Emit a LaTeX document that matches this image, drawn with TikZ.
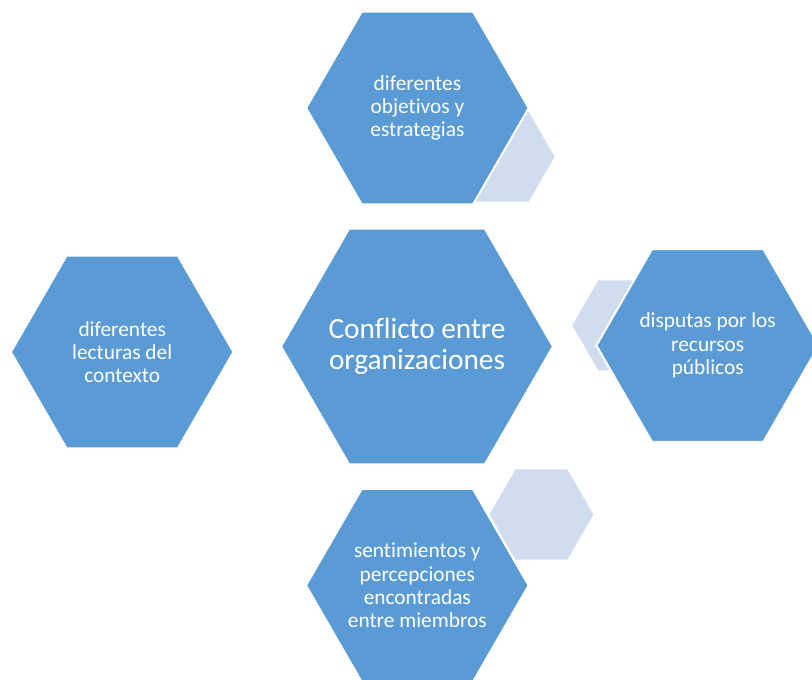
\documentclass[tikz,border=0pt]{standalone}
\usepackage{fontspec}
\setmainfont[RawFeature={-liga;-clig;-dlig}]{Carlito}
\usetikzlibrary{shapes.geometric}
\definecolor{hexblue}{HTML}{5B9BD5}
\definecolor{hexpale}{HTML}{D1DCEE}
\tikzset{
  hexshape/.style={regular polygon, regular polygon sides=6, inner sep=0pt, outer sep=0pt},
  bighex/.style={hexshape, minimum size=167pt, fill=hexblue, draw=white, line width=1.5pt},
  centerhex/.style={bighex, minimum size=204pt},
  smallhex/.style={hexshape, minimum size=78pt, fill=hexpale},
  celltext/.style={text=white, align=center, inner sep=0pt, font=\fontsize{16}{17.5}\selectfont},
  coretext/.style={celltext, font=\fontsize{22}{23.5}\selectfont}
}
\begin{document}
\begin{tikzpicture}[x=0.75pt,y=-0.75pt]
\useasboundingbox (0,0) rectangle (812,679);
\clip (0,0) rectangle (812,679);
% pale accent hexagons behind the outer cells
\node[smallhex] (accTop) at (502.6,156.7) {};
\node[smallhex] (accRight) at (624.3,325.3) {};
\node[smallhex] (accBottom) at (541.4,514.5) {};
% central cell
\node[centerhex] (core) at (417,346.5) {};
\node[coretext] (coreLbl) at (core.center) {Conflicto entre\\organizaciones};
% outer cells
\node[bighex] (top) at (417.4,108) {};
\node[celltext] (topLbl) at (top.center) {diferentes\\objetivos y\\estrategias};
\node[bighex] (left) at (122.2,352) {};
\node[celltext] (leftLbl) at (left.center) {diferentes\\lecturas del\\contexto};
\node[bighex] (right) at (707.7,345.5) {};
\node[celltext] (rightLbl) at (right.center) {disputas por los\\recursos\\públicos};
\node[bighex] (bottom) at (417.3,585.4) {};
\node[celltext] (bottomLbl) at (bottom.center) {sentimientos y\\percepciones\\encontradas\\entre miembros};
\end{tikzpicture}
\end{document}
